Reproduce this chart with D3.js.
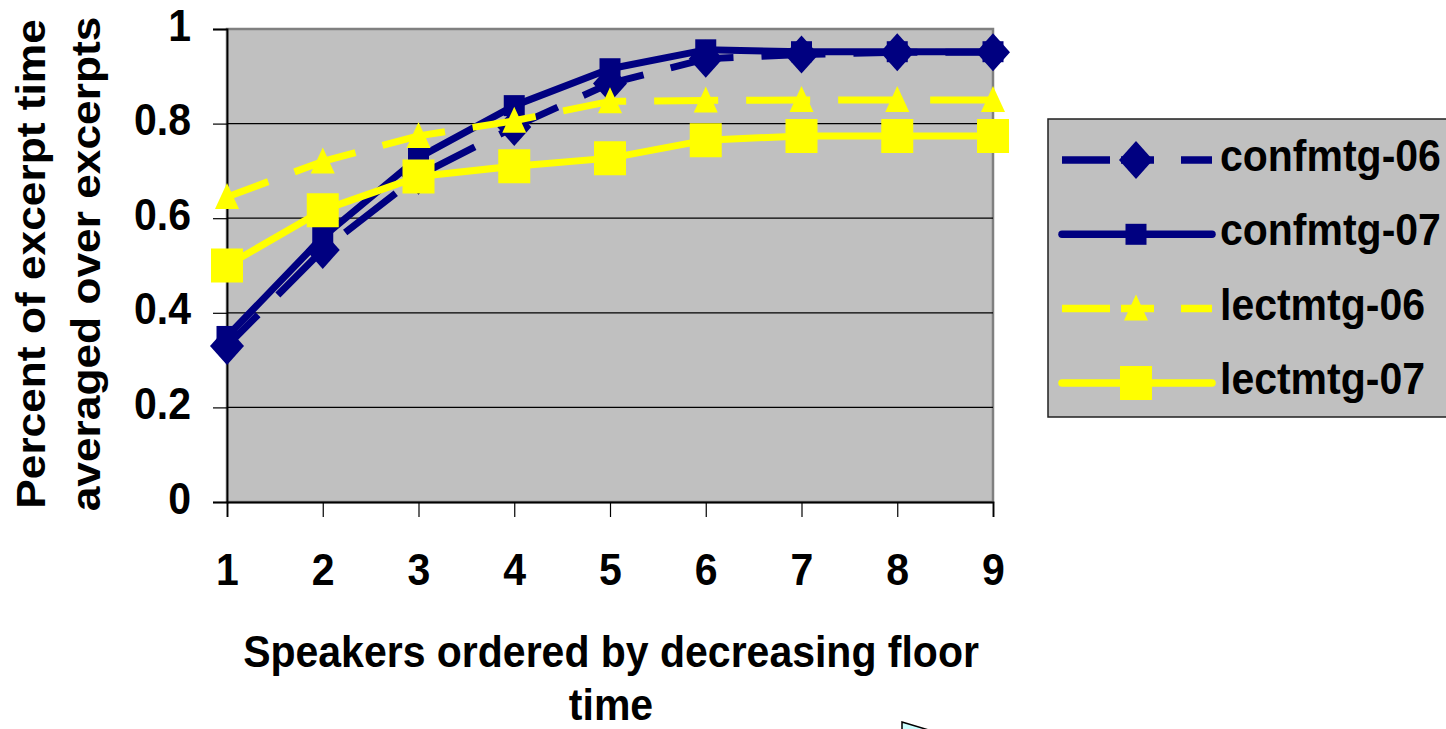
<!DOCTYPE html>
<html>
<head>
<meta charset="utf-8">
<script src="https://cdn.jsdelivr.net/npm/d3@7"></script>
<style>
  html, body { margin: 0; padding: 0; background: #ffffff; }
  svg { display: block; }
  text { font-family: "Liberation Sans", Arial, sans-serif; font-weight: bold; fill: #000; }
</style>
</head>
<body>
<svg id="chart" width="1446" height="729"></svg>
<script>
// Speaker rank (by decreasing floor time)
const speakers = [1, 2, 3, 4, 5, 6, 7, 8, 9];

// Cumulative share of excerpt time, averaged over excerpts
const confmtg06 = [0.33, 0.533, 0.69, 0.793, 0.885, 0.937, 0.946, 0.951, 0.951];
const confmtg07 = [0.35, 0.56, 0.728, 0.838, 0.916, 0.956, 0.952, 0.952, 0.952];
const lectmtg06 = [0.645, 0.72, 0.774, 0.806, 0.847, 0.849, 0.85, 0.85, 0.85];
const lectmtg07 = [0.5, 0.617, 0.688, 0.71, 0.727, 0.765, 0.774, 0.774, 0.774];

const yTicks = [0, 0.2, 0.4, 0.6, 0.8, 1];
const seriesNames = ["confmtg-06", "confmtg-07", "lectmtg-06", "lectmtg-07"];

const NAVY = "#000080", YELLOW = "#FFFF00", PLOT_BG = "#C0C0C0";
const STRETCH = 1.08; // glyphs are drawn slightly taller than wide

const svg = d3.select("#chart");

const x = d3.scaleLinear().domain([1, 9]).range([227, 993]);
const y = d3.scaleLinear().domain([0, 1]).range([502, 29]);

// plot background
svg.append("rect")
  .attr("x", x(1)).attr("y", y(1))
  .attr("width", x(9) - x(1)).attr("height", y(0) - y(1))
  .attr("fill", PLOT_BG).attr("stroke", "#808080").attr("stroke-width", 2.5);

// horizontal gridlines
svg.append("g").selectAll("line")
  .data(yTicks.filter(t => t > 0 && t < 1))
  .join("line")
  .attr("x1", x(1)).attr("x2", x(9))
  .attr("y1", d => y(d)).attr("y2", d => y(d))
  .attr("stroke", "#000").attr("stroke-width", 1.2);

// y axis
const yAxis = svg.append("g")
  .attr("transform", `translate(${x(1)},0)`)
  .call(d3.axisLeft(y).tickValues(yTicks).tickSize(14).tickPadding(22)
    .tickFormat(d => (d === 0 || d === 1) ? String(d) : d3.format(".1f")(d)));
yAxis.select(".domain").attr("stroke", "#000").attr("stroke-width", 1.8);
yAxis.selectAll(".tick line").attr("stroke", "#000").attr("stroke-width", 1.2);
yAxis.selectAll(".tick text")
  .attr("font-size", 41).attr("font-family", null)
  .attr("dy", null).attr("y", 11 / STRETCH)
  .attr("transform", `scale(1,${STRETCH})`);

// x axis
const xAxis = svg.append("g")
  .attr("transform", `translate(0,${y(0)})`)
  .call(d3.axisBottom(x).tickValues(speakers).tickSize(15).tickFormat(d3.format("d")));
xAxis.select(".domain").attr("stroke", "#000").attr("stroke-width", 1.8);
xAxis.selectAll(".tick line").attr("stroke", "#000").attr("stroke-width", 1.2);
xAxis.selectAll(".tick text")
  .attr("font-size", 41).attr("font-family", null)
  .attr("dy", null).attr("y", 83 / STRETCH)
  .attr("transform", `scale(1,${STRETCH})`);

// marker shapes
const markers = {
  diamond: (cx, cy) => `M${cx},${cy - 19}L${cx + 17},${cy}L${cx},${cy + 19}L${cx - 17},${cy}Z`,
  smallSquare: (cx, cy) => `M${cx - 10.5},${cy - 10.5}h21v21h-21Z`,
  triangle: (cx, cy) => `M${cx},${cy - 14}L${cx + 12},${cy + 12}L${cx - 12},${cy + 12}Z`,
  bigSquare: (cx, cy) => `M${cx - 16},${cy - 17}h32v34h-32Z`
};

const series = [
  { name: seriesNames[0], values: confmtg06, color: NAVY, dash: "64,28", offset: 20, marker: "diamond" },
  { name: seriesNames[1], values: confmtg07, color: NAVY, dash: null, marker: "smallSquare" },
  { name: seriesNames[2], values: lectmtg06, color: YELLOW, dash: "64,28", offset: 20, marker: "triangle" },
  { name: seriesNames[3], values: lectmtg07, color: YELLOW, dash: null, marker: "bigSquare" }
];

const line = d3.line().x((d, i) => x(speakers[i])).y(d => y(d));

series.forEach(s => {
  const g = svg.append("g");
  g.append("path")
    .attr("d", line(s.values))
    .attr("fill", "none")
    .attr("stroke", s.color)
    .attr("stroke-width", 7)
    .attr("stroke-linejoin", "round")
    .attr("stroke-dasharray", s.dash)
    .attr("stroke-dashoffset", s.offset || 0);
  g.selectAll("path.mk")
    .data(s.values)
    .join("path")
    .attr("class", "mk")
    .attr("d", (d, i) => markers[s.marker](x(speakers[i]), y(d)))
    .attr("fill", s.color);
});

// legend
const legend = svg.append("g");
legend.append("rect")
  .attr("x", 1048).attr("y", 119).attr("width", 420).attr("height", 298)
  .attr("fill", PLOT_BG).attr("stroke", "#202020").attr("stroke-width", 1.5);

series.forEach((s, i) => {
  const cy = 160 + i * 74.3;
  const row = legend.append("g");
  row.append("line")
    .attr("x1", 1062).attr("x2", 1212).attr("y1", cy).attr("y2", cy)
    .attr("stroke", s.color).attr("stroke-width", 7.5)
    .attr("stroke-linecap", s.dash ? "butt" : "round")
    .attr("stroke-dasharray", s.dash ? "48,11,33,27,32" : null);
  row.append("path")
    .attr("d", markers[s.marker](1136, cy))
    .attr("fill", s.color);
  row.append("text")
    .attr("transform", `translate(1220,${cy + 11}) scale(1,${STRETCH})`)
    .attr("font-size", 41)
    .text(s.name);
});

// axis titles
const yTitle = ["Percent of excerpt time", "averaged over excerpts"];
svg.append("g").selectAll("text")
  .data(yTitle)
  .join("text")
  .attr("transform", (d, i) => `translate(${45 + i * 55},264) scale(1,${STRETCH}) rotate(-90)`)
  .attr("text-anchor", "middle")
  .attr("font-size", 41)
  .text(d => d);

const xTitle = ["Speakers ordered by decreasing floor", "time"];
svg.append("g").selectAll("text")
  .data(xTitle)
  .join("text")
  .attr("transform", (d, i) => `translate(611,${667 + i * 53}) scale(1,${STRETCH})`)
  .attr("text-anchor", "middle")
  .attr("font-size", 41)
  .text(d => d);

// corner of a callout shape peeking in at the bottom edge
svg.append("path")
  .attr("d", "M902,722L942,734L902,734Z")
  .attr("fill", "#CCFFFF").attr("stroke", "#000").attr("stroke-width", 1.5);
</script>
</body>
</html>
